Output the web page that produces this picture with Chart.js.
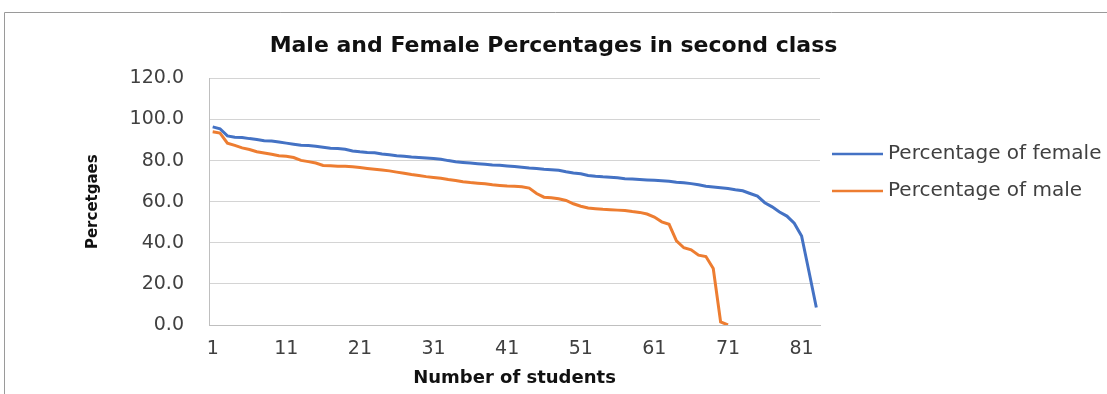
<!DOCTYPE html>
<html>
<head>
<meta charset="utf-8">
<title>Male and Female Percentages in second class</title>
<script src="https://cdn.jsdelivr.net/npm/chart.js@4.4.1/dist/chart.umd.min.js"></script>
<style>
  html, body { margin: 0; padding: 0; background: #fff; }
  #wrap { width: 1107px; height: 394px; }
</style>
</head>
<body>
<div id="wrap"><canvas id="genderChart" width="1107" height="394"></canvas></div>
<script>
// student numbers on the x axis (only every 10th is labelled)
const studentNumbers = [
  1, 2, 3, 4, 5, 6, 7, 8, 9, 10, 11, 12, 13, 14, 15, 16, 17, 18, 19, 20,
  21, 22, 23, 24, 25, 26, 27, 28, 29, 30, 31, 32, 33, 34, 35, 36, 37, 38, 39, 40,
  41, 42, 43, 44, 45, 46, 47, 48, 49, 50, 51, 52, 53, 54, 55, 56, 57, 58, 59, 60,
  61, 62, 63, 64, 65, 66, 67, 68, 69, 70, 71, 72, 73, 74, 75, 76, 77, 78, 79, 80,
  81, 82, 83
];

const femalePct = [
  96.4, 95.5, 92.0, 91.4, 91.2, 90.7, 90.3, 89.7, 89.5, 89.0,
  88.5, 88.0, 87.5, 87.3, 87.0, 86.5, 86.0, 85.9, 85.5, 84.7,
  84.3, 84.0, 83.8, 83.2, 82.8, 82.4, 82.1, 81.7, 81.5, 81.3,
  81.0, 80.7, 80.0, 79.4, 79.1, 78.8, 78.5, 78.2, 77.9, 77.7,
  77.4, 77.1, 76.8, 76.4, 76.1, 75.8, 75.6, 75.3, 74.6, 74.0,
  73.6, 72.8, 72.4, 72.1, 71.9, 71.6, 71.2, 71.0, 70.8, 70.6,
  70.4, 70.2, 69.9, 69.5, 69.2, 68.8, 68.2, 67.5, 67.2, 66.8,
  66.4, 65.8, 65.3, 64.0, 62.7, 59.5, 57.5, 55.0, 53.0, 49.5,
  43.3, 26.0, 8.5
];

const malePct = [
  94.0, 93.4, 88.5, 87.4, 86.2, 85.4, 84.3, 83.7, 83.1, 82.4,
  82.1, 81.5, 80.1, 79.5, 78.8, 77.6, 77.5, 77.3, 77.3, 77.0,
  76.6, 76.2, 75.8, 75.4, 75.0, 74.4, 73.8, 73.2, 72.8, 72.2,
  71.8, 71.4, 70.8, 70.3, 69.7, 69.3, 69.0, 68.7, 68.2, 67.9,
  67.6, 67.5, 67.3, 66.6, 64.0, 62.2, 61.9, 61.4, 60.6, 59.0,
  57.8, 56.9, 56.6, 56.3, 56.1, 55.9, 55.7, 55.2, 54.8, 54.0,
  52.5, 50.2, 49.0, 41.0, 37.6, 36.6, 34.0, 33.3, 27.5, 1.5,
  0.0
];

const seriesNames = ["Percentage of female", "Percentage of male"];
const seriesColors = ["#4472C4", "#ED7D31"];
const yTicks = [0, 20, 40, 60, 80, 100, 120];

const FONT = "'DejaVu Sans', sans-serif";

// frame round the whole chart (top and left edges show in the picture)
const frame = {
  id: "frame",
  beforeDraw(chart) {
    const ctx = chart.ctx;
    ctx.save();
    ctx.strokeStyle = "#9a9a9a";
    ctx.lineWidth = 1;
    ctx.beginPath();
    ctx.moveTo(4.5, chart.height);
    ctx.lineTo(4.5, 12.5);
    ctx.lineTo(chart.width, 12.5);
    ctx.stroke();
    ctx.restore();
  }
};

// legend on the right, Excel style (line sample + text, clipped by the edge)
const sideLegend = {
  id: "sideLegend",
  afterDraw(chart) {
    const ctx = chart.ctx;
    const area = chart.chartArea;
    const rows = [154, 191];
    ctx.save();
    ctx.font = "20px " + FONT;
    ctx.textBaseline = "middle";
    ctx.textAlign = "left";
    chart.data.datasets.forEach(function (ds, i) {
      const y = rows[i];
      ctx.strokeStyle = ds.borderColor;
      ctx.lineWidth = 2.5;
      ctx.beginPath();
      ctx.moveTo(area.right + 12, y);
      ctx.lineTo(area.right + 63, y);
      ctx.stroke();
      ctx.fillStyle = "#404040";
      ctx.fillText(ds.label, area.right + 68, y);
    });
    ctx.restore();
  }
};

const ctx = document.getElementById("genderChart").getContext("2d");
new Chart(ctx, {
  type: "line",
  data: {
    labels: studentNumbers,
    datasets: [
      {
        label: seriesNames[0],
        data: femalePct,
        borderColor: seriesColors[0],
        backgroundColor: seriesColors[0],
        borderWidth: 3,
        pointRadius: 0,
        tension: 0,
        fill: false
      },
      {
        label: seriesNames[1],
        data: malePct,
        borderColor: seriesColors[1],
        backgroundColor: seriesColors[1],
        borderWidth: 3,
        pointRadius: 0,
        tension: 0,
        fill: false
      }
    ]
  },
  options: {
    responsive: false,
    animation: false,
    layout: {
      padding: { left: 0, right: 0, top: 0, bottom: 5 }
    },
    plugins: {
      legend: { display: false },
      tooltip: { enabled: false },
      title: {
        display: true,
        text: "Male and Female Percentages in second class",
        color: "#111",
        font: { family: FONT, size: 22, weight: "bold" },
        padding: { top: 33, bottom: 19 }
      }
    },
    scales: {
      x: {
        type: "category",
        offset: true,
        afterFit: function (scale) {
          scale.height = 64;
        },
        grid: { display: false, drawTicks: false },
        border: { display: true, color: "#bfbfbf", width: 1 },
        ticks: {
          autoSkip: false,
          maxRotation: 0,
          minRotation: 0,
          padding: 13,
          color: "#404040",
          font: { family: FONT, size: 19 },
          callback: function (value, index) {
            return index % 10 === 0 ? this.getLabelForValue(value) : "";
          }
        },
        title: {
          display: true,
          text: "Number of students",
          color: "#111",
          font: { family: FONT, size: 18, weight: "bold" },
          padding: { top: 0, bottom: 0 }
        }
      },
      y: {
        min: yTicks[0],
        max: yTicks[yTicks.length - 1],
        afterFit: function (scale) {
          scale.width = 209;
        },
        grid: { color: "#d4d4d4", lineWidth: 1, drawTicks: false },
        border: { display: true, color: "#bfbfbf", width: 1 },
        ticks: {
          stepSize: 20,
          padding: 25,
          color: "#404040",
          font: { family: FONT, size: 19 },
          callback: function (value) {
            return Number(value).toFixed(1);
          }
        },
        title: {
          display: true,
          text: "Percetgaes",
          color: "#111",
          font: { family: FONT, size: 15, weight: "bold" },
          padding: { top: 84, bottom: 0 }
        }
      },
      // empty axis that only keeps room on the right for the legend
      legendSpace: {
        axis: "y",
        position: "right",
        display: true,
        afterFit: function (scale) {
          scale.width = 287;
        },
        grid: { display: false, drawTicks: false },
        border: { display: false },
        ticks: { display: false }
      }
    }
  },
  plugins: [frame, sideLegend]
});
</script>
</body>
</html>
